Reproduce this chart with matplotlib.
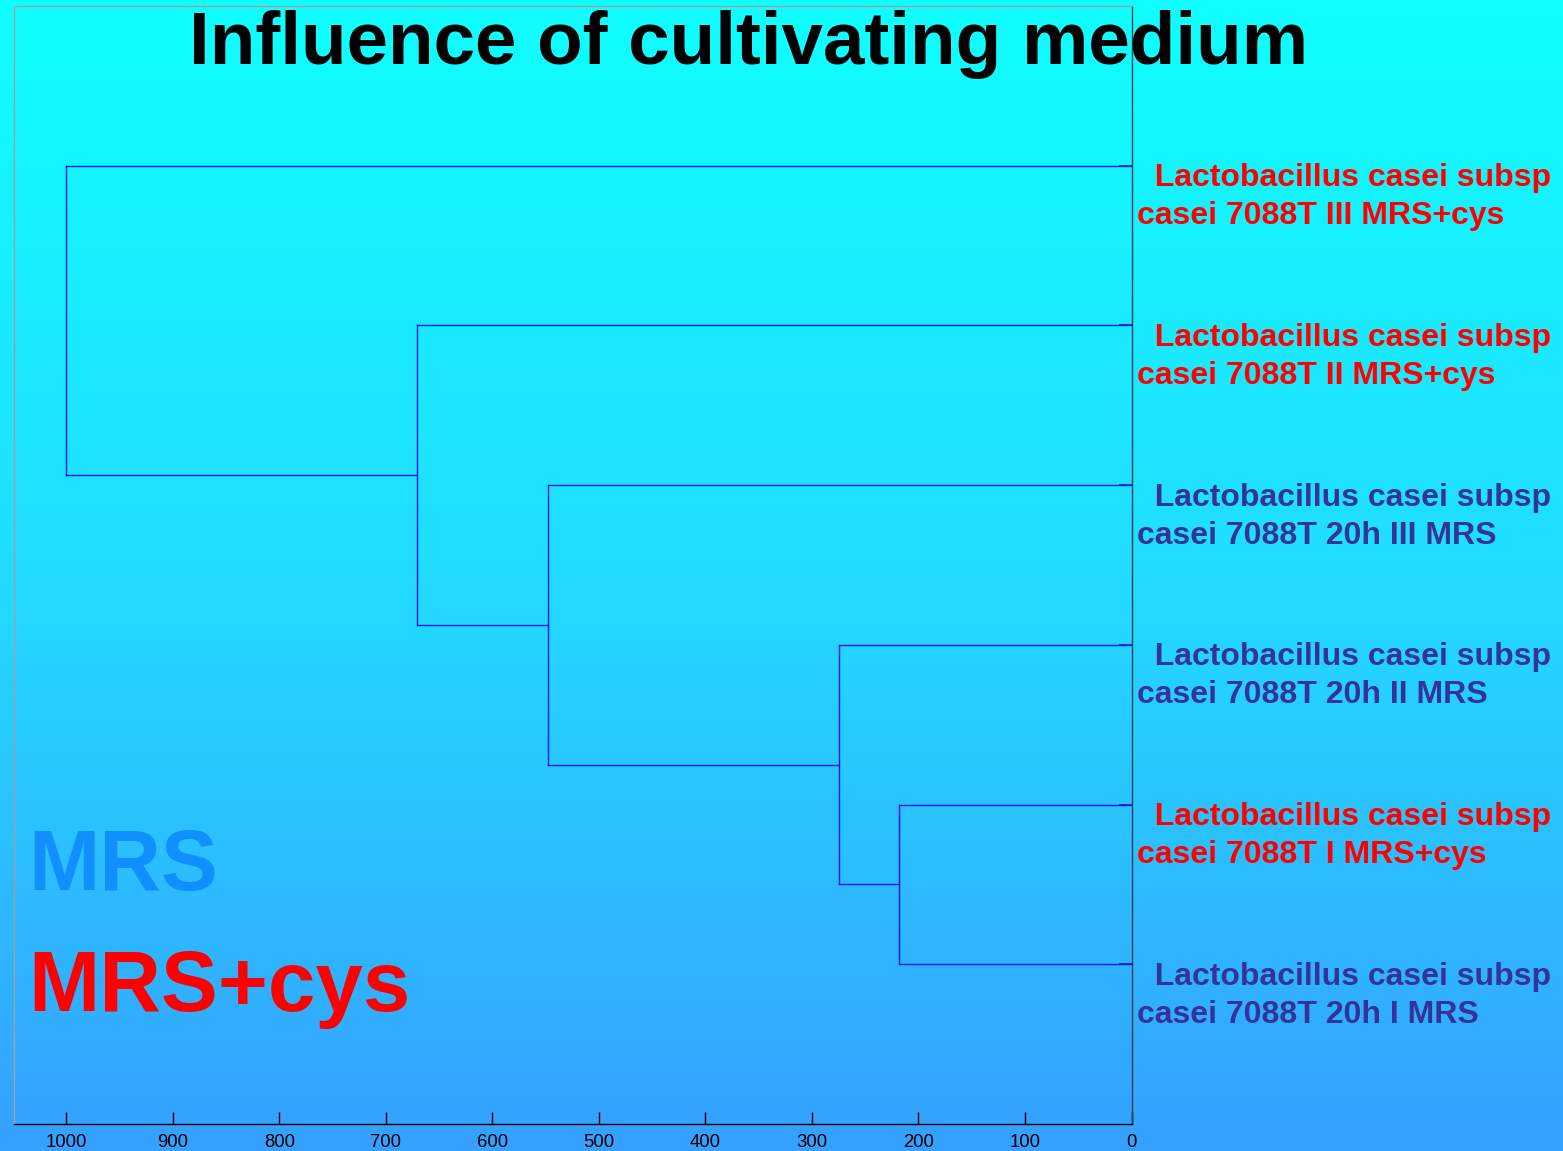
import numpy as np
import matplotlib
matplotlib.use("Agg")
import matplotlib.pyplot as plt
from matplotlib.colors import LinearSegmentedColormap

plt.rcParams['font.family'] = ['Liberation Sans', 'DejaVu Sans']

# ---- data ----
leaf_line1 = ["  Lactobacillus casei subsp"] * 6
leaf_line2 = ["casei 7088T III MRS+cys",
              "casei 7088T II MRS+cys",
              "casei 7088T 20h III MRS",
              "casei 7088T 20h II MRS",
              "casei 7088T I MRS+cys",
              "casei 7088T 20h I MRS"]
leaf_medium = ["MRS+cys", "MRS+cys", "MRS", "MRS", "MRS+cys", "MRS"]
# merges: (child a, child b, height); leaves are 0..5, new nodes 6..10
merge_a = [4, 3, 2, 1, 0]
merge_b = [5, 6, 7, 8, 9]
merge_h = [218, 275, 548, 671, 1000]
x_ticks = [1000, 900, 800, 700, 600, 500, 400, 300, 200, 100, 0]

medium_colors = {"MRS": "#333399", "MRS+cys": "#FF0000"}

W, H = 1563, 1151
fig = plt.figure(figsize=(W / 100, H / 100), dpi=100)

# gradient background
bg = fig.add_axes([0, 0, 1, 1], zorder=0)
cmap = LinearSegmentedColormap.from_list("bg", ["#0FFFFF", "#22DCFF", "#36A0FF"])
grad = np.linspace(0, 1, 256).reshape(-1, 1)
bg.imshow(grad, aspect="auto", cmap=cmap, extent=[0, 1, 0, 1], origin="upper")
bg.set_axis_off()

ax = fig.add_axes([14 / W, 1 - 1124 / H, (1131.5 - 14) / W, (1124 - 6) / H], zorder=1)
ax.set_facecolor("none")

n = len(leaf_line2)
node_y = {i: i + 1 for i in range(n)}
node_x = {i: 0 for i in range(n)}
line_col = "#0A14FF"
for k, (a, b, h) in enumerate(zip(merge_a, merge_b, merge_h)):
    ya, yb = node_y[a], node_y[b]
    ax.plot([node_x[a], h], [ya, ya], color=line_col, lw=1.0)
    ax.plot([node_x[b], h], [yb, yb], color=line_col, lw=1.0)
    ax.plot([h, h], [ya, yb], color=line_col, lw=1.0)
    nid = n + k
    node_y[nid] = (ya + yb) / 2
    node_x[nid] = h

ax.set_xlim(1049, 0)
ax.set_ylim(7, 0)
ax.set_xticks(x_ticks)
ax.set_xticklabels([str(t) for t in x_ticks])
ax.tick_params(axis="x", direction="in", length=8.5, width=1, pad=7.5,
               labelsize=13.3, colors="black")
ax.set_yticks(range(1, n + 1))
ax.yaxis.tick_right()
ax.tick_params(axis="y", direction="in", length=9.5, width=1.2,
               color="#1028A0", labelright=False, labelleft=False)

for side, col in [("left", "#A0A0A0"), ("top", "#A0A0A0"),
                  ("right", "#2E4050"), ("bottom", "black")]:
    ax.spines[side].set_color(col)
    ax.spines[side].set_linewidth(1.0)

for i in range(n):
    col = medium_colors[leaf_medium[i]]
    ax.annotate(leaf_line1[i], xy=(0, i + 1), xycoords="data",
                xytext=(5.5, -20.5), textcoords="offset pixels",
                ha="left", va="baseline", fontsize=23, fontweight="bold",
                color=col, annotation_clip=False)
    ax.annotate(leaf_line2[i], xy=(0, i + 1), xycoords="data",
                xytext=(5.5, -58.5), textcoords="offset pixels",
                ha="left", va="baseline", fontsize=23, fontweight="bold",
                color=col, annotation_clip=False)

fig.text(749 / W, 1 - 64 / H, "Influence of cultivating medium",
         ha="center", va="baseline", fontsize=53.7, fontweight="bold",
         color="black", zorder=5)
fig.text(28 / W, 1 - 890 / H, "MRS", ha="left", va="baseline",
         fontsize=61.5, fontweight="bold", color="#1090FF", zorder=5)
fig.text(28 / W, 1 - 1011 / H, "MRS+cys", ha="left", va="baseline",
         fontsize=61.5, fontweight="bold", color="#FF0000", zorder=5)

fig.savefig("out.png", dpi=100)
